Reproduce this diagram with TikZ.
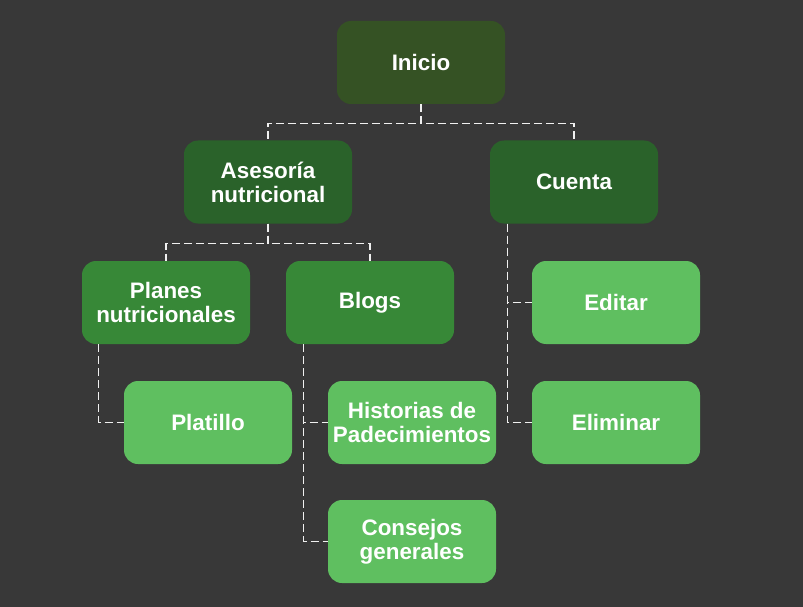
\documentclass[tikz,border=0pt]{standalone}
\usepackage{fontspec}
\setmainfont{Liberation Sans}
\definecolor{fondo}{HTML}{383838}
\definecolor{verdeA}{HTML}{355224}
\definecolor{verdeB}{HTML}{2A622A}
\definecolor{verdeC}{HTML}{378837}
\definecolor{verdeD}{HTML}{5FBF60}
\begin{document}
\begin{tikzpicture}[x=1pt, y=-1pt,
		caja/.style={rectangle, rounded corners=14pt, minimum width=168pt, minimum height=83pt,
			text=white, align=center, font=\fontsize{22.4}{24}\selectfont\bfseries, inner sep=0pt},
		linea/.style={draw=white!88!gray, line width=1.2pt, dash pattern=on 8pt off 4pt}]
		\fill[fondo] (0,0) rectangle (803,607);
		\useasboundingbox (0,0) rectangle (803,607);
		\node[caja, fill=verdeA] (inicio) at (421, 62.5) {Inicio};
		\node[caja, fill=verdeB] (asesoria) at (268, 182) {Asesoría\\nutricional};
		\node[caja, fill=verdeB] (cuenta) at (574, 182) {Cuenta};
		\node[caja, fill=verdeC] (planes) at (166, 302.5) {Planes\\nutricionales};
		\node[caja, fill=verdeC] (blogs) at (370, 302.5) {Blogs};
		\node[caja, fill=verdeD] (editar) at (616, 302.5) {Editar};
		\node[caja, fill=verdeD] (platillo) at (208, 422.5) {Platillo};
		\node[caja, fill=verdeD] (historias) at (412, 422.5) {Historias de\\Padecimientos};
		\node[caja, fill=verdeD] (eliminar) at (616, 422.5) {Eliminar};
		\node[caja, fill=verdeD] (consejos) at (412, 541.5) {Consejos\\generales};
		% ramas de arriba
		\foreach \hijo in {asesoria, cuenta}
			\draw[linea] (inicio.south) -- ++(0,19) -| (\hijo.north);
		\foreach \hijo in {planes, blogs}
			\draw[linea] (asesoria.south) -- ++(0,20) -| (\hijo.north);
		% ramas laterales
		\foreach \hijo in {editar, eliminar}
			\draw[linea] ([xshift=18pt]cuenta.south west) |- (\hijo.west);
		\draw[linea] ([xshift=17pt]planes.south west) |- (platillo.west);
		\foreach \hijo in {historias, consejos}
			\draw[linea] ([xshift=18pt]blogs.south west) |- (\hijo.west);
	\end{tikzpicture}
\end{document}
